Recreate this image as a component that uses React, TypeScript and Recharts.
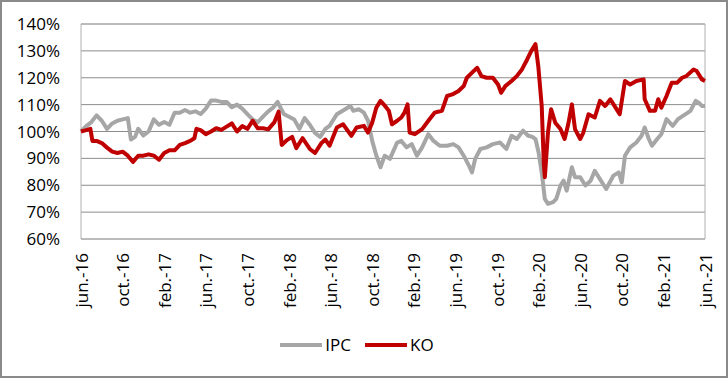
import React from "react";
import {
  LineChart,
  Line,
  XAxis,
  YAxis,
  CartesianGrid,
  ReferenceArea,
  Legend,
} from "recharts";

// month offset from jun-16, value in %
const ipcSeries: [number, number][] = [
  [0, 100], [0.5, 102], [1, 103.5], [1.5, 106], [2, 104], [2.5, 101], [3, 103],
  [3.5, 104], [4, 104.5], [4.5, 105], [4.8, 97], [5.2, 98], [5.5, 101], [6, 98.5],
  [6.5, 100], [7, 104.5], [7.5, 102.5], [8, 103.5], [8.5, 102.5], [9, 107],
  [9.5, 107], [10, 108], [10.5, 107], [11, 107.5], [11.5, 106.5], [12, 108.5],
  [12.5, 111.5], [13, 111.5], [13.5, 111], [14, 111], [14.5, 109], [15, 110],
  [15.5, 108.5], [16, 106.5], [16.5, 104.5], [17, 103.5], [17.5, 105.5], [18, 107.5],
  [18.5, 109], [18.9, 111], [19.5, 106.5], [20, 105.5], [20.5, 104.5], [21, 101],
  [21.5, 105], [22, 102.5], [22.5, 99.5], [23, 98], [23.5, 101], [23.9, 102.1],
  [24.6, 106.4], [25.4, 108.3], [25.9, 109.5], [26.2, 107.7], [26.7, 108.3],
  [27.2, 107], [27.6, 104], [28, 96.5], [28.4, 91], [28.8, 86.7], [29.2, 91],
  [29.7, 89.8], [30.4, 95.9], [30.8, 96.5], [31.3, 94.1], [31.8, 95.3], [32.3, 91],
  [32.8, 94.1], [33.4, 99], [33.9, 96.5], [34.5, 94.7], [35.2, 94.7], [35.8, 95.3],
  [36.3, 94.1], [36.8, 91], [37.3, 87.3], [37.6, 84.8], [37.9, 89.8], [38.4, 93.5],
  [39, 94.1], [39.6, 95.3], [40.3, 95.9], [40.9, 93.5], [41.4, 98.4], [41.9, 97.2],
  [42.5, 100.3], [43, 98.4], [43.4, 98], [43.7, 97.2], [44, 92.2], [44.3, 84.8],
  [44.6, 74.9], [44.9, 73.1], [45.4, 73.7], [45.7, 74.9], [46.1, 79.9], [46.4, 81.7],
  [46.7, 78], [47.2, 86.7], [47.5, 83], [48, 83], [48.5, 79.9], [49, 81.7],
  [49.4, 85.4], [49.9, 82.3], [50.5, 78.6], [51.2, 83.6], [51.7, 84.8], [52, 81.1],
  [52.3, 91], [52.8, 94.1], [53.4, 95.9], [53.9, 98.4], [54.2, 101.5], [54.6, 97.2],
  [54.9, 94.7], [55.4, 97.2], [55.8, 99], [56.3, 104.6], [56.9, 102.1], [57.4, 104.6],
  [58.1, 106.4], [58.6, 107.7], [59.1, 111.4], [59.4, 110.7], [59.7, 109.5],
  [60, 109.5],
];

const koSeries: [number, number][] = [
  [0, 100], [0.5, 100.5], [0.9, 101], [1.1, 96.5], [1.5, 96.5], [2, 95.7],
  [2.5, 94], [3, 92.5], [3.5, 92], [4, 92.5], [4.5, 91], [5, 88.7], [5.5, 91],
  [6, 91], [6.5, 91.5], [7, 91], [7.5, 89.5], [8, 92], [8.5, 93], [9, 93],
  [9.5, 95], [10, 95.7], [10.5, 96.5], [10.9, 97.5], [11.1, 101], [11.5, 100.5],
  [12, 99], [12.5, 100], [13, 101.2], [13.5, 100.6], [14, 101.8], [14.5, 103],
  [15, 100], [15.5, 102], [16, 101], [16.5, 104], [17, 101.2], [17.5, 101.2],
  [18, 100.8], [18.6, 103.5], [19, 107.4], [19.3, 95], [19.8, 96.8], [20.3, 98],
  [20.7, 93.8], [21.3, 97.5], [22, 93.5], [22.5, 92], [23.1, 95.6], [23.5, 97],
  [23.9, 94.7], [24.6, 101.5], [25.2, 102.7], [26, 98.4], [26.5, 101.5],
  [27.2, 102.1], [27.6, 99.6], [28, 103.3], [28.4, 108.9], [28.8, 111.4],
  [29.1, 110.1], [29.6, 107.7], [29.9, 102.7], [30.4, 104], [30.8, 105.2],
  [31.1, 107], [31.4, 110.1], [31.6, 99.6], [32.1, 99], [32.8, 100.9], [33.4, 104],
  [34, 107], [34.7, 107.7], [35.2, 113.2], [35.7, 113.8], [36.3, 115.1],
  [36.8, 116.9], [37.1, 120], [37.6, 121.9], [38.1, 123.7], [38.5, 120.6],
  [39, 120], [39.6, 120], [40.1, 117.5], [40.4, 114.4], [40.8, 116.9], [41.4, 118.8],
  [41.9, 120.6], [42.4, 123.1], [42.9, 126.8], [43.3, 130], [43.7, 132.5],
  [43.97, 124.3], [44.3, 109.5], [44.5, 88], [44.6, 83], [44.9, 99.6], [45.2, 108.3],
  [45.6, 103.3], [46.1, 100.9], [46.5, 97.2], [46.85, 102.7], [47.2, 110.1],
  [47.5, 100.9], [48, 97.2], [48.3, 99.6], [48.8, 106.4], [49.4, 105.2],
  [49.9, 111.4], [50.4, 109.5], [50.9, 112], [51.4, 108.9], [51.8, 106.4],
  [52.3, 118.8], [52.8, 117.5], [53.4, 118.8], [54.1, 119.4], [54.2, 112],
  [54.7, 107.7], [55.2, 107.7], [55.5, 112], [55.8, 108.9], [56.3, 113.2],
  [56.8, 118.1], [57.3, 118.1], [57.8, 120], [58.2, 120.6], [58.9, 123.1],
  [59.2, 122.5], [59.7, 119.4], [60, 118.8],
];

const xTicks = [0, 4, 8, 12, 16, 20, 24, 28, 32, 36, 40, 44, 48, 52, 56, 60];
const xTickLabels = [
  "jun.-16", "oct.-16", "feb.-17", "jun.-17", "oct.-17", "feb.-18", "jun.-18",
  "oct.-18", "feb.-19", "jun.-19", "oct.-19", "feb.-20", "jun.-20", "oct.-20",
  "feb.-21", "jun.-21",
];
const yTicks = [60, 70, 80, 90, 100, 110, 120, 130, 140];

const ipcData = ipcSeries.map(([m, v]) => ({ m, v }));
const koData = koSeries.map(([m, v]) => ({ m, v }));

const FONT = "'Open Sans', sans-serif";
const IPC_COLOR = "#a6a6a6";
const KO_COLOR = "#c00000";

function MonthTick(props: any) {
  const { x, y, payload } = props;
  const idx = xTicks.indexOf(payload.value);
  const top = y + 14;
  return (
    <text
      x={x}
      y={top}
      transform={`rotate(-90, ${x}, ${top})`}
      textAnchor="end"
      dominantBaseline="central"
      fontFamily={FONT}
      fontSize={17}
      fill="#000"
    >
      {xTickLabels[idx]}
    </text>
  );
}

function LegendContent() {
  const items = [
    { name: "IPC", color: IPC_COLOR },
    { name: "KO", color: KO_COLOR },
  ];
  return (
    <div style={{ display: "flex", justifyContent: "center", alignItems: "center" }}>
      {items.map((it) => (
        <div key={it.name} style={{ display: "flex", alignItems: "center", marginRight: 14 }}>
          <div style={{ width: 42, height: 4, background: it.color, marginRight: 3 }} />
          <span style={{ fontFamily: FONT, fontSize: 17, color: "#000" }}>{it.name}</span>
        </div>
      ))}
    </div>
  );
}

export default function App() {
  return (
    <div style={{ position: "absolute", left: 0, top: 0, width: 728, height: 378, background: "#fff" }}>
      <LineChart width={728} height={378} margin={{ top: 24, right: 23, left: 0, bottom: 0 }}>
        <CartesianGrid horizontal vertical={false} stroke="#8c8c8c" />
        <XAxis
          type="number"
          dataKey="m"
          domain={[0, 60]}
          ticks={xTicks}
          interval={0}
          height={139}
          axisLine={false}
          tickLine={false}
          tickSize={0}
          tickMargin={0}
          tick={<MonthTick />}
        />
        <YAxis
          type="number"
          domain={[60, 140]}
          ticks={yTicks}
          interval={0}
          width={81}
          axisLine={false}
          tickLine={false}
          tickSize={0}
          tickMargin={21}
          tickFormatter={(v: number) => `${v}%`}
          tick={{ fontFamily: FONT, fontSize: 17, fill: "#000" }}
        />
        <ReferenceArea x1={0} x2={60} y1={60} y2={140} fill="none" stroke="#b0b0b0" strokeWidth={1} />
        <Line
          data={ipcData}
          dataKey="v"
          name="IPC"
          stroke={IPC_COLOR}
          strokeWidth={4}
          dot={false}
          strokeLinejoin="round"
          isAnimationActive={false}
        />
        <Line
          data={koData}
          dataKey="v"
          name="KO"
          stroke={KO_COLOR}
          strokeWidth={4}
          dot={false}
          strokeLinejoin="round"
          isAnimationActive={false}
        />
        <Legend
          verticalAlign="middle"
          align="center"
          content={<LegendContent />}
          wrapperStyle={{ top: 333, left: 0, width: 728 }}
        />
      </LineChart>
      <div
        style={{
          position: "absolute",
          left: 0,
          top: 0,
          width: 728,
          height: 378,
          boxSizing: "border-box",
          border: "2px solid #8a8a8a",
          pointerEvents: "none",
        }}
      />
    </div>
  );
}
